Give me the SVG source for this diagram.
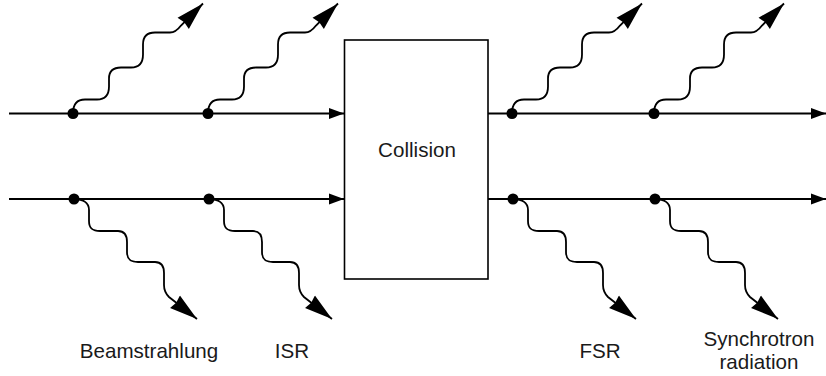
<svg xmlns="http://www.w3.org/2000/svg" width="826" height="376" viewBox="0 0 826 376">
<defs>
<marker id="lineArrow" markerUnits="userSpaceOnUse" markerWidth="16" markerHeight="12" refX="15" refY="6" orient="auto" viewBox="0 0 16 12">
<path d="M0,0.5 L15,6 L0,11.5 Z" fill="#000"/>
</marker>
<marker id="photonArrow" markerUnits="userSpaceOnUse" markerWidth="29" markerHeight="18" refX="28" refY="9" orient="auto" viewBox="0 0 29 18">
<path d="M0,1 L28,9 L0,17 L1.5,9 Z" fill="#000"/>
</marker>
<path id="photonUp" d="M0,0 C0,-10 4,-14 12,-14 L24,-14 C32,-14 36,-19 36,-27 L36,-35 C36,-42 40,-46 48,-46 L58,-46 C66,-46 70,-51 70,-59 L70,-69 C70,-77 74,-81 82,-81 L97,-81 C102,-81 105,-84 108,-88 L130,-110"/>
<path id="photonDown" d="M0,0 C8,0 15,3 15,11 L15,22 C15,29 18,32 26,32 L44,32 C50,32 53,36 53,43 L53,53 C53,60 56,63 64,63 L81,63 C87,63 90,67 90,74 L90,86 C90,92 92,95 95,98 L123,120"/>
</defs>
<style>
.beam{fill:none;stroke:#000;stroke-width:2;marker-end:url(#lineArrow)}
.photon{fill:none;stroke:#000;stroke-width:1.8;marker-end:url(#photonArrow)}
.dot{fill:#000}
.box{fill:#fff;stroke:#000;stroke-width:1.6}
.lbl{font-family:"Liberation Sans",Arial,sans-serif;font-size:20.6px;fill:#1a1a1a;text-anchor:middle}
</style>
<g id="connectors">
<line class="beam" x1="9" y1="113.5" x2="344" y2="113.5"/>
<line class="beam" x1="9" y1="199" x2="344" y2="199"/>
<line class="beam" x1="488" y1="113.5" x2="826" y2="113.5"/>
<line class="beam" x1="488" y1="199" x2="826" y2="199"/>
<use href="#photonUp" class="photon" transform="translate(73,113.5)"/>
<use href="#photonUp" class="photon" transform="translate(208,113.5)"/>
<use href="#photonUp" class="photon" transform="translate(512,113.5)"/>
<use href="#photonUp" class="photon" transform="translate(654,113.5)"/>
<use href="#photonDown" class="photon" transform="translate(74,199)"/>
<use href="#photonDown" class="photon" transform="translate(209,199)"/>
<use href="#photonDown" class="photon" transform="translate(513,199)"/>
<use href="#photonDown" class="photon" transform="translate(655,199)"/>
</g>
<g id="vertices">
<circle class="dot" cx="73" cy="113.5" r="5.5"/>
<circle class="dot" cx="208" cy="113.5" r="5.5"/>
<circle class="dot" cx="512" cy="113.5" r="5.5"/>
<circle class="dot" cx="654" cy="113.5" r="5.5"/>
<circle class="dot" cx="74" cy="199" r="5.5"/>
<circle class="dot" cx="209" cy="199" r="5.5"/>
<circle class="dot" cx="513" cy="199" r="5.5"/>
<circle class="dot" cx="655" cy="199" r="5.5"/>
</g>
<g id="collision">
<rect class="box" x="344.5" y="40" width="143.5" height="239"/>
<text class="lbl" x="417" y="157">Collision</text>
</g>
<g id="labels">
<text class="lbl" x="149" y="358">Beamstrahlung</text>
<text class="lbl" x="292" y="358">ISR</text>
<text class="lbl" x="600" y="358">FSR</text>
<text class="lbl" x="759" y="346">Synchrotron</text>
<text class="lbl" x="759" y="369">radiation</text>
</g>
</svg>
